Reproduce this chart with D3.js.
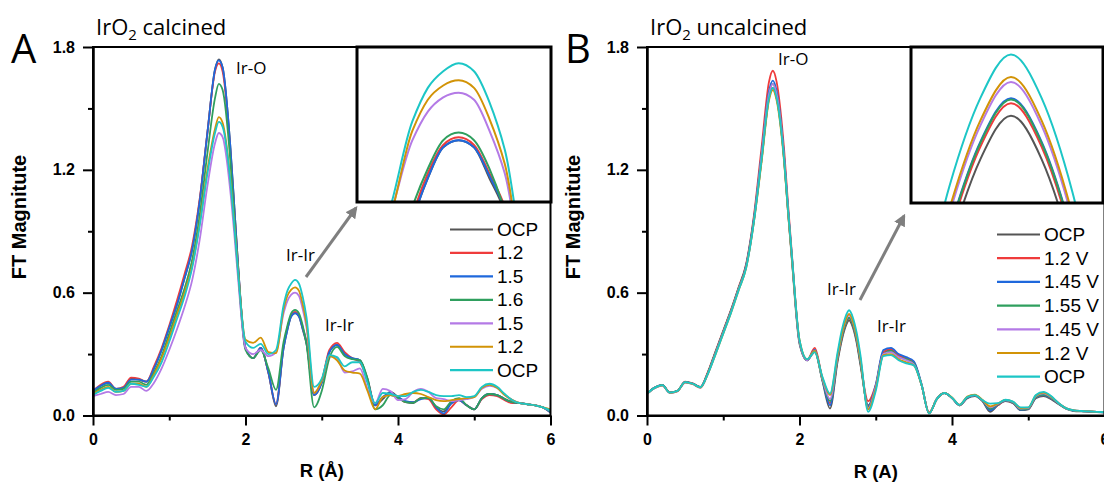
<!DOCTYPE html>
<html lang="en">
<head>
<meta charset="UTF-8">
<title>FT magnitude IrO2</title>
<script src="https://cdn.jsdelivr.net/npm/d3@7/dist/d3.min.js"></script>
<style>
    body { margin: 0; background: #fff; }
    text { font-family: "Liberation Sans", Arial, sans-serif; }
    .lbl { font-family: "Open Sans", "Noto Sans", sans-serif; }
</style>
</head>
<body>
<svg width="1104" height="483"></svg>
<script>
// R grid in Angstrom, shared by every curve
const R = [0,0.1,0.2,0.3,0.4,0.5,0.6,0.7,0.8,0.9,
    1.0,1.1,1.2,1.3,1.4,1.5,1.6,1.65,1.7,1.8,
    1.85,1.9,2.0,2.1,2.2,2.3,2.4,2.5,2.55,2.6,
    2.65,2.7,2.75,2.8,2.9,3.0,3.1,3.2,3.3,3.4,
    3.5,3.6,3.7,3.8,3.9,4.0,4.1,4.2,4.3,4.4,
    4.5,4.6,4.7,4.8,4.9,5.0,5.1,5.2,5.3,5.4,
    5.5,5.6,5.7,5.8,5.9,6.0];

const colors = ['#555555', '#ef3b3b', '#1f68dc', '#2f9f5e', '#b47ae6', '#d29306', '#1cc6c6'];
const labelsA = ['OCP', '1.2', '1.5', '1.6', '1.5', '1.2', 'OCP'];
const labelsB = ['OCP', '1.2 V', '1.45 V', '1.55 V', '1.45 V', '1.2 V', 'OCP'];

// panel A - IrO2 calcined
const calcOCP1 = [.115,.145,.16,.13,.135,.18,.175,.165,.23,.32,
    .43,.54,.67,.81,1.05,1.38,1.69,1.74,1.70,1.32,
    1.04,.75,.33,.28,.33,.21,.045,.33,.42,.485,
    .50,.485,.42,.35,.10,.16,.31,.345,.30,.28,
    .27,.18,.05,.08,.115,.09,.065,.06,.085,.085,
    .04,.02,.06,.075,.05,.03,.085,.105,.10,.08,
    .065,.06,.055,.05,.04,.02];
const calc12 = [.12,.15,.165,.13,.14,.185,.18,.165,.24,.33,
    .44,.56,.69,.83,1.06,1.38,1.68,1.72,1.68,1.30,
    1.02,.74,.33,.28,.33,.21,.055,.34,.43,.49,
    .506,.49,.43,.36,.10,.17,.32,.355,.31,.28,
    .26,.17,.05,.09,.105,.09,.065,.065,.085,.08,
    .03,.005,.04,.075,.05,.03,.08,.10,.095,.075,
    .06,.06,.055,.05,.04,.015];
const calc15 = [.12,.145,.16,.13,.135,.175,.175,.165,.23,.32,
    .43,.54,.67,.81,1.05,1.38,1.69,1.735,1.70,1.32,
    1.04,.75,.33,.28,.33,.21,.055,.33,.42,.485,
    .50,.485,.425,.355,.10,.16,.31,.345,.30,.28,
    .27,.17,.05,.09,.11,.09,.07,.065,.08,.085,
    .04,.01,.06,.075,.05,.03,.085,.105,.10,.08,
    .065,.06,.055,.05,.04,.015];
const calc16 = [.11,.135,.15,.125,.13,.165,.165,.15,.21,.29,
    .40,.51,.62,.76,.98,1.28,1.55,1.62,1.59,1.25,
    .99,.72,.32,.28,.32,.23,.125,.36,.44,.50,
    .516,.50,.44,.35,.04,.12,.28,.335,.29,.275,
    .27,.18,.03,.05,.10,.085,.065,.062,.085,.085,
    .045,.03,.07,.085,.05,.03,.085,.105,.10,.08,
    .065,.06,.055,.05,.04,.02];
const calc15b = [.095,.105,.115,.10,.105,.14,.14,.12,.16,.23,
    .32,.42,.53,.66,.86,1.12,1.33,1.38,1.36,1.10,
    .90,.68,.33,.30,.32,.29,.31,.50,.56,.59,
    .60,.585,.52,.43,.11,.17,.29,.28,.21,.215,
    .23,.13,.06,.13,.12,.075,.08,.115,.13,.115,
    .085,.08,.07,.075,.08,.09,.13,.145,.135,.10,
    .075,.06,.055,.05,.04,.025];
const calc12b = [.105,.125,.14,.115,.12,.155,.155,.14,.20,.28,
    .38,.49,.60,.73,.94,1.20,1.40,1.457,1.43,1.16,
    .95,.72,.37,.355,.38,.31,.305,.52,.585,.615,
    .626,.61,.545,.45,.11,.17,.29,.27,.22,.21,
    .205,.12,.03,.09,.10,.095,.105,.11,.105,.09,
    .075,.07,.075,.08,.085,.09,.135,.15,.135,.10,
    .075,.06,.055,.05,.04,.03];
const calcOCP2 = [.10,.12,.135,.115,.12,.155,.15,.14,.19,.26,
    .36,.47,.58,.72,.93,1.18,1.38,1.434,1.41,1.15,
    .94,.71,.36,.33,.35,.30,.32,.54,.61,.645,
    .662,.645,.58,.48,.14,.18,.295,.285,.24,.26,
    .26,.16,.06,.11,.105,.095,.095,.115,.125,.115,
    .10,.095,.095,.10,.09,.095,.14,.155,.14,.105,
    .075,.06,.055,.05,.04,.025];

// panel B - IrO2 uncalcined
const uncOCP1 = [.107,.135,.148,.112,.12,.163,.155,.138,.21,.31,
    .41,.51,.62,.73,.95,1.24,1.55,1.60,1.55,1.24,
    .99,.76,.35,.27,.31,.17,.034,.265,.36,.43,
    .465,.43,.355,.245,.05,.14,.31,.32,.29,.28,
    .26,.15,.01,.08,.11,.085,.05,.085,.095,.07,
    .018,.05,.07,.06,.026,.03,.085,.095,.08,.055,
    .032,.022,.02,.018,.016,.014];
const unc12 = [.108,.137,.15,.113,.121,.165,.157,.14,.215,.315,
    .415,.515,.625,.74,.97,1.30,1.63,1.684,1.63,1.29,
    1.03,.79,.36,.27,.33,.18,.06,.275,.37,.44,
    .475,.44,.365,.255,.07,.15,.31,.325,.295,.28,
    .26,.15,.015,.08,.11,.085,.05,.085,.097,.072,
    .028,.05,.072,.062,.03,.033,.088,.10,.085,.058,
    .034,.024,.022,.02,.018,.016];
const unc145 = [.107,.136,.149,.112,.12,.164,.156,.139,.21,.31,
    .41,.51,.62,.735,.96,1.27,1.585,1.636,1.585,1.26,
    1.01,.78,.36,.27,.32,.175,.05,.28,.374,.444,
    .479,.444,.369,.26,.045,.15,.32,.33,.30,.285,
    .265,.155,.012,.08,.11,.085,.05,.085,.098,.072,
    .025,.052,.073,.062,.028,.032,.088,.10,.085,.057,
    .033,.023,.021,.019,.017,.015];
const unc155 = [.107,.135,.148,.112,.12,.163,.155,.138,.21,.31,
    .41,.51,.62,.73,.95,1.26,1.57,1.62,1.57,1.25,
    1.0,.77,.36,.27,.315,.175,.07,.278,.373,.443,
    .478,.443,.368,.258,.04,.14,.30,.315,.285,.275,
    .255,.15,.012,.08,.11,.085,.05,.088,.098,.073,
    .032,.054,.074,.064,.03,.034,.09,.102,.087,.058,
    .034,.024,.022,.02,.018,.016];
const unc145b = [.105,.133,.146,.11,.118,.16,.153,.135,.205,.305,
    .405,.505,.615,.725,.945,1.26,1.57,1.62,1.57,1.25,
    1.0,.77,.36,.27,.315,.18,.08,.29,.387,.457,
    .492,.457,.382,.272,.035,.14,.30,.31,.285,.27,
    .25,.15,.012,.08,.11,.087,.052,.09,.10,.075,
    .04,.056,.075,.066,.034,.036,.095,.108,.09,.06,
    .035,.025,.022,.02,.018,.016];
const unc12b = [.106,.134,.147,.111,.119,.162,.154,.136,.205,.30,
    .40,.50,.61,.72,.94,1.23,1.54,1.59,1.54,1.23,
    .99,.77,.37,.275,.315,.185,.10,.296,.391,.461,
    .496,.461,.386,.276,.03,.13,.295,.30,.275,.26,
    .245,.15,.012,.08,.11,.088,.053,.092,.102,.076,
    .045,.058,.076,.067,.036,.038,.098,.112,.092,.06,
    .035,.025,.022,.02,.018,.016];
const uncOCP2 = [.107,.135,.148,.112,.12,.163,.155,.138,.205,.30,
    .40,.50,.61,.72,.94,1.24,1.55,1.60,1.55,1.24,
    1.0,.78,.37,.275,.31,.19,.107,.31,.409,.479,
    .514,.479,.404,.294,.018,.12,.29,.295,.27,.255,
    .245,.15,.01,.08,.11,.087,.052,.09,.10,.075,
    .058,.06,.077,.068,.04,.04,.10,.115,.095,.06,
    .035,.025,.022,.02,.018,.016];

const yTicks = [0, 0.6, 1.2, 1.8];
const yMinor = [0.3, 0.9, 1.5];
const xTicks = [0, 2, 4, 6];
const xMinor = [1, 3, 5];

let svg = d3.select('svg');
let defs = svg.append('defs');
defs.append('marker')
    .attr('id', 'head')
    .attr('viewBox', '0 0 10 10')
    .attr('refX', 8).attr('refY', 5)
    .attr('markerUnits', 'userSpaceOnUse')
    .attr('markerWidth', 12).attr('markerHeight', 12)
    .attr('orient', 'auto')
    .append('path')
    .attr('d', 'M0,0 L10,5 L0,10 z')
    .attr('fill', '#7f7f7f');

function drawPanel(p) {
    let g = svg.append('g');
    let x = d3.scaleLinear().domain([0, 6]).range([p.x0, p.x0 + 457.5]);
    let y = d3.scaleLinear().domain([0, 1.8]).range([415.5, 47]);

    defs.append('clipPath').attr('id', 'clip' + p.id)
        .append('rect').attr('x', p.x0).attr('y', 47).attr('width', 457.5).attr('height', 368.5);

    let line = d3.line()
        .x((d, i) => x(R[i]))
        .y(d => y(d))
        .curve(d3.curveMonotoneX);

    g.append('g').attr('clip-path', 'url(#clip' + p.id + ')')
        .selectAll('path')
        .data(p.series)
        .enter()
        .append('path')
        .attr('d', d => line(d))
        .attr('fill', 'none')
        .attr('stroke', (d, i) => colors[i])
        .attr('stroke-width', 1.8);

    // frame
    g.append('rect')
        .attr('x', p.x0).attr('y', 47)
        .attr('width', 457.5).attr('height', 368.5)
        .attr('fill', 'none').attr('stroke', '#000').attr('stroke-width', 2);

    g.append('g').attr('transform', `translate(${p.x0},0)`)
        .call(d3.axisLeft(y).tickValues(yTicks).tickSize(10).tickSizeOuter(0)
            .tickPadding(8).tickFormat(d3.format('.1f')));
    g.append('g').attr('transform', `translate(${p.x0},0)`)
        .call(d3.axisLeft(y).tickValues(yMinor).tickSize(5).tickSizeOuter(0).tickFormat(''));
    g.append('g').attr('transform', 'translate(0,415.5)')
        .call(d3.axisBottom(x).tickValues(xTicks).tickSize(10).tickSizeOuter(0)
            .tickPadding(8).tickFormat(d3.format('d')));
    g.append('g').attr('transform', 'translate(0,415.5)')
        .call(d3.axisBottom(x).tickValues(xMinor).tickSize(5).tickSizeOuter(0).tickFormat(''));

    g.selectAll('.domain, .tick line').attr('stroke', '#000').attr('stroke-width', 2);
    g.selectAll('.tick text')
        .attr('font-family', '"Liberation Sans", Arial, sans-serif')
        .attr('font-size', 16).attr('font-weight', 'bold').attr('fill', '#000');

    // axis titles
    g.append('text')
        .attr('transform', `translate(${p.x0 - 74},217) rotate(-90)`)
        .attr('text-anchor', 'middle').attr('dominant-baseline', 'central')
        .attr('font-size', 20).attr('font-weight', 'bold')
        .text('FT Magnitute');
    g.append('text')
        .attr('x', x(3)).attr('y', p.xTitleY)
        .attr('text-anchor', 'middle')
        .attr('font-size', 18.5).attr('font-weight', 'bold')
        .text(p.xTitle);

    // panel letter and title
    g.append('text').attr('class', 'lbl')
        .attr('x', p.x0 - 82).attr('y', 62.5)
        .attr('font-size', 40)
        .text(p.letter);
    let t = g.append('text').attr('class', 'lbl')
        .attr('x', p.x0 + 3).attr('y', 35)
        .attr('font-size', 22);
    t.append('tspan').text('IrO');
    t.append('tspan').attr('font-size', 15).attr('dy', 5).text('2');
    t.append('tspan').attr('dy', -5).text(' ' + p.title);

    // peak labels
    p.notes.forEach(n => {
        g.append('text').attr('class', 'lbl')
            .attr('x', n[0]).attr('y', n[1])
            .attr('font-size', 17)
            .text(n[2]);
    });

    // arrow towards the inset
    g.append('line')
        .attr('x1', p.arrow[0]).attr('y1', p.arrow[1])
        .attr('x2', p.arrow[2]).attr('y2', p.arrow[3])
        .attr('stroke', '#7f7f7f').attr('stroke-width', 3)
        .attr('marker-end', 'url(#head)');

    // inset: zoom on the Ir-Ir peak
    let ix = d3.scaleLinear().domain(p.inset.rx).range([p.inset.x, p.inset.x + p.inset.w]);
    let iy = d3.scaleLinear().domain(p.inset.ry).range([p.inset.y + p.inset.h, p.inset.y]);
    defs.append('clipPath').attr('id', 'iclip' + p.id)
        .append('rect').attr('x', p.inset.x).attr('y', p.inset.y)
        .attr('width', p.inset.w).attr('height', p.inset.h);
    g.append('rect')
        .attr('x', p.inset.x).attr('y', p.inset.y)
        .attr('width', p.inset.w).attr('height', p.inset.h)
        .attr('fill', '#fff');
    let iline = d3.line()
        .x((d, i) => ix(R[i]))
        .y(d => iy(d))
        .curve(d3.curveMonotoneX);
    g.append('g').attr('clip-path', 'url(#iclip' + p.id + ')')
        .selectAll('path')
        .data(p.series)
        .enter()
        .append('path')
        .attr('d', d => iline(d))
        .attr('fill', 'none')
        .attr('stroke', (d, i) => colors[i])
        .attr('stroke-width', 2);
    g.append('rect')
        .attr('x', p.inset.x).attr('y', p.inset.y)
        .attr('width', p.inset.w).attr('height', p.inset.h)
        .attr('fill', 'none').attr('stroke', '#000').attr('stroke-width', 3);

    // legend
    let lg = g.append('g');
    p.labels.forEach((l, i) => {
        let yy = p.legend.y + i * p.legend.dy;
        lg.append('line')
            .attr('x1', p.legend.x).attr('x2', p.legend.x + 43)
            .attr('y1', yy).attr('y2', yy)
            .attr('stroke', colors[i]).attr('stroke-width', 2.2);
        lg.append('text')
            .attr('x', p.legend.x + 47).attr('y', yy)
            .attr('dominant-baseline', 'central')
            .attr('font-size', 19)
            .text(l);
    });
}

drawPanel({
    id: 'A', x0: 93, letter: 'A', title: 'calcined', xTitle: 'R (Å)', xTitleY: 476.5,
    series: [calcOCP1, calc12, calc15, calc16, calc15b, calc12b, calcOCP2],
    labels: labelsA,
    notes: [[236, 73.5, 'Ir-O'], [286, 260.5, 'Ir-Ir'], [325, 331, 'Ir-Ir']],
    arrow: [306, 277, 356, 208],
    inset: {x: 357, y: 47, w: 194, h: 155, rx: [2.32, 2.95], ry: [0.37, 0.696]},
    legend: {x: 450, y: 229.5, dy: 23.45}
});
drawPanel({
    id: 'B', x0: 647, letter: 'B', title: 'uncalcined', xTitle: 'R (A)', xTitleY: 478,
    series: [uncOCP1, unc12, unc145, unc155, unc145b, unc12b, uncOCP2],
    labels: labelsB,
    notes: [[778, 65, 'Ir-O'], [827, 295, 'Ir-Ir'], [877, 331.5, 'Ir-Ir']],
    arrow: [860, 300, 904, 216],
    inset: {x: 911, y: 47, w: 192, h: 156, rx: [2.487, 2.80], ry: [0.395, 0.52]},
    legend: {x: 997, y: 234.5, dy: 23.7}
});
</script>
</body>
</html>
